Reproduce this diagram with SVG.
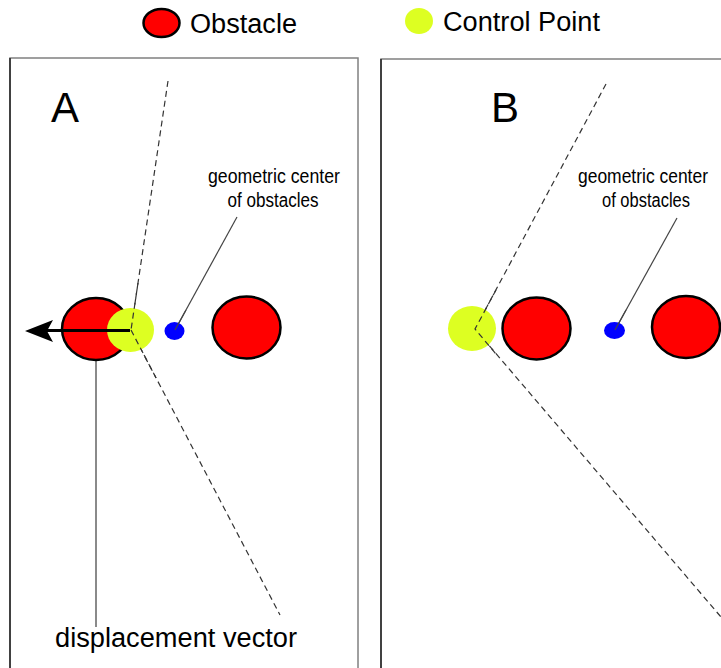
<svg xmlns="http://www.w3.org/2000/svg" width="721" height="668" viewBox="0 0 721 668">
  <defs>
    <style>
      .obstacle { fill: #ff0000; stroke: #000; stroke-width: 2.5; }
      .control { fill: #ddff22; stroke: none; }
      .center { fill: #0000ff; stroke: none; }
      .frame { fill: #fff; stroke: #808080; stroke-width: 1.5; }
      .frame-edge { stroke: #222; stroke-width: 1.5; }
      .guide { fill: none; stroke: #333; stroke-width: 1.2; stroke-dasharray: 6 4; }
      .pointer { fill: none; stroke: #444; stroke-width: 1.2; }
      .leader { fill: none; stroke: #8a8a8a; stroke-width: 2; }
      .vector { fill: none; stroke: #000; stroke-width: 3; }
      text { font-family: "Liberation Sans", Arial, sans-serif; fill: #000; }
      .legend { font-size: 27px; }
      .panel { font-size: 42px; }
      .note { font-size: 20px; text-anchor: middle; }
      .caption { font-size: 27px; }
    </style>
  </defs>
  <rect width="721" height="668" fill="#fff"/>

  <!-- legend -->
  <g id="legend">
    <ellipse class="obstacle" cx="161.5" cy="23" rx="18" ry="14"/>
    <text class="legend" x="190" y="32.5" textLength="107" lengthAdjust="spacingAndGlyphs">Obstacle</text>
    <ellipse class="control" cx="419" cy="21" rx="14" ry="13"/>
    <text class="legend" x="443" y="30.5" textLength="157" lengthAdjust="spacingAndGlyphs">Control Point</text>
  </g>

  <!-- panel frames -->
  <g id="frame-a">
    <rect class="frame" x="10" y="58" width="348" height="640"/>
    <line class="frame-edge" x1="10" y1="58" x2="10" y2="668"/>
    <text class="panel" x="51" y="122">A</text>
  </g>
  <g id="frame-b">
    <rect class="frame" x="381" y="59" width="360" height="640"/>
    <line class="frame-edge" x1="381" y1="59" x2="381" y2="668"/>
    <text class="panel" x="491" y="122">B</text>
  </g>

  <!-- connectors -->
  <g id="connectors">
    <!-- panel A -->
    <polyline class="guide" points="168,81 131,330 280,615"/>
    <line class="pointer" x1="175" y1="330" x2="237" y2="217"/>
    <line class="leader" x1="96" y1="336" x2="96" y2="627"/>
    <!-- panel B -->
    <polyline class="guide" points="606,84 475,329 721,617"/>
    <line class="pointer" x1="615" y1="330" x2="677" y2="218"/>
  </g>

  <!-- panel A nodes -->
  <g id="obstacle-a1"><ellipse class="obstacle" cx="96" cy="329" rx="34" ry="31"/></g>
  <g id="obstacle-a2"><ellipse class="obstacle" cx="246.5" cy="327.5" rx="34" ry="31"/></g>
  <g id="control-a"><ellipse class="control" cx="130.5" cy="330" rx="23.5" ry="22"/></g>
  <g id="center-a"><ellipse class="center" cx="174.5" cy="331" rx="10" ry="9"/></g>
  <g id="guide-a-redraw">
    <line class="guide" x1="138" y1="283" x2="131" y2="330"/>
    <line class="guide" x1="131" y1="330" x2="156" y2="378"/>
    <line class="pointer" x1="175" y1="330" x2="186" y2="310"/>
  </g>
  <g id="displacement-vector">
    <line class="vector" x1="130" y1="330.5" x2="45" y2="330.5"/>
    <polygon points="25,331 53,320 47,331 53,342" fill="#000"/>
  </g>
  <g id="label-center-a">
    <text class="note" x="274" y="183" textLength="132" lengthAdjust="spacingAndGlyphs">geometric center</text>
    <text class="note" x="273" y="207" textLength="91" lengthAdjust="spacingAndGlyphs">of obstacles</text>
  </g>
  <g id="label-displacement">
    <text class="caption" x="55" y="646.5" textLength="242" lengthAdjust="spacingAndGlyphs">displacement vector</text>
  </g>

  <!-- panel B nodes -->
  <g id="control-b"><ellipse class="control" cx="472" cy="328.5" rx="24" ry="22.5"/></g>
  <g id="guide-b-redraw">
    <polyline class="guide" points="496,290 475,329 496,354"/>
  </g>
  <g id="obstacle-b1"><ellipse class="obstacle" cx="536.5" cy="328.5" rx="34" ry="31"/></g>
  <g id="center-b"><ellipse class="center" cx="614.5" cy="330.5" rx="10.5" ry="8.5"/></g>
  <g id="obstacle-b2"><ellipse class="obstacle" cx="686" cy="327" rx="34" ry="31"/></g>
  <g id="pointer-b-redraw">
    <line class="pointer" x1="615" y1="330" x2="626" y2="310"/>
  </g>
  <g id="label-center-b">
    <text class="note" x="643" y="183" textLength="130" lengthAdjust="spacingAndGlyphs">geometric center</text>
    <text class="note" x="646" y="207" textLength="88" lengthAdjust="spacingAndGlyphs">of obstacles</text>
  </g>
</svg>
